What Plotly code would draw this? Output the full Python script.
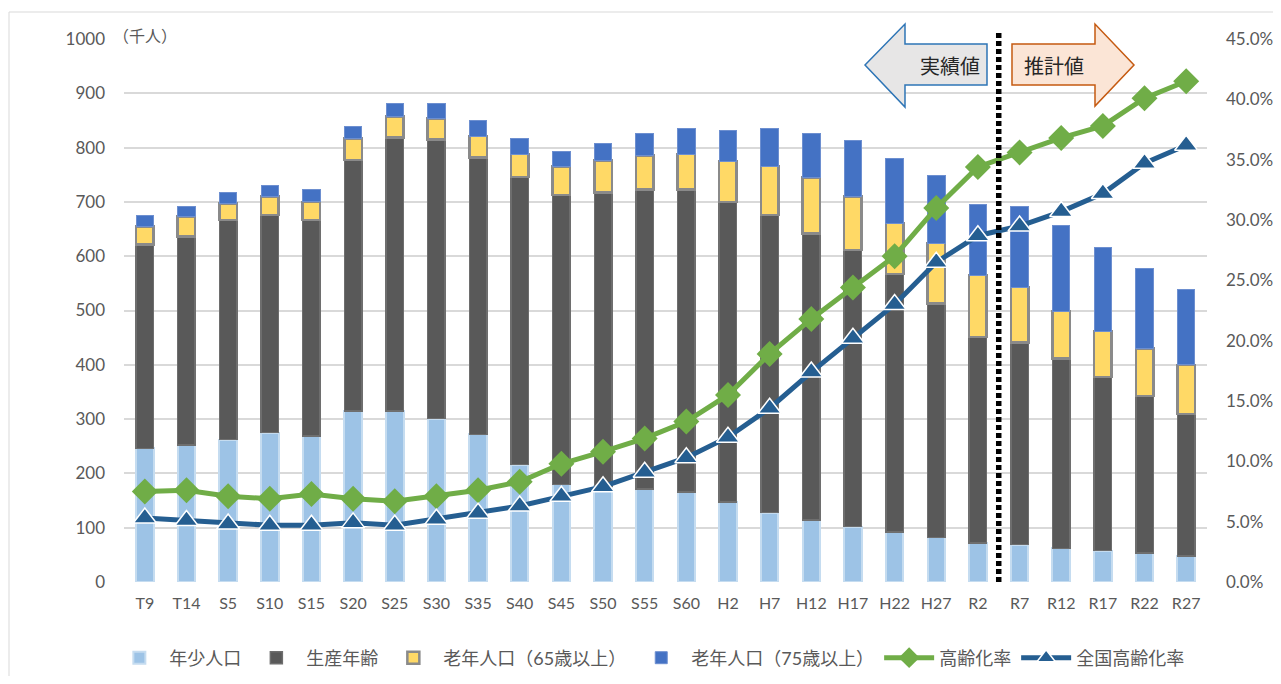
import plotly.graph_objects as go

# --- data ---
categories = ["T9", "T14", "S5", "S10", "S15", "S20", "S25", "S30", "S35", "S40",
              "S45", "S50", "S55", "S60", "H2", "H7", "H12", "H17", "H22", "H27",
              "R2", "R7", "R12", "R17", "R22", "R27"]

# population, thousands
young = [246, 252, 262, 275, 269, 315, 315, 301, 272, 216, 180, 176, 171, 166, 147,
         128, 114, 102, 92, 82, 72, 69, 62, 58, 53, 48]
working = [376, 384, 405, 401, 398, 462, 504, 514, 510, 530, 533, 541, 552, 557, 553,
           548, 528, 509, 475, 431, 379, 372, 350, 320, 290, 261]
old65 = [33, 37, 30, 34, 33, 40, 38, 39, 39, 42, 52, 59, 62, 65, 75,
         90, 103, 99, 94, 111, 114, 102, 87, 84, 87, 91]
old75 = [20, 18, 20, 21, 22, 21, 25, 28, 29, 28, 28, 31, 41, 47, 57,
         69, 81, 103, 119, 124, 131, 148, 157, 154, 147, 138]

# aging rate, %
aging_rate = [7.5, 7.6, 7.1, 6.9, 7.3, 6.9, 6.7, 7.1, 7.6, 8.3, 9.8, 10.8, 11.9, 13.3,
              15.5, 18.9, 21.8, 24.4, 27.0, 31.0, 34.4, 35.6, 36.8, 37.8, 40.1, 41.5]
national_rate = [5.3, 5.1, 4.8, 4.7, 4.7, 4.9, 4.7, 5.2, 5.7, 6.3, 7.1, 7.9, 9.1, 10.3,
                 12.0, 14.4, 17.4, 20.2, 23.0, 26.5, 28.7, 29.5, 30.7, 32.2, 34.7, 36.2]

FONT = "Lato, Noto Sans CJK JP, sans-serif"
GREY_TXT = "#595959"

# page has an 8px body margin, so the figure is drawn 8px in from the window edge
OFF = 8
W, H = 1281 - 2 * OFF, 684 - 2 * OFF
# plot area in window pixels (used to place the decorations)
PL, PR, PT, PB = 124, 1207, 39, 582


def paper(x, y):
    """window pixel -> paper coords"""
    return (x - PL) / (PR - PL), (PB - y) / (PB - PT)


def path(points):
    pts = [paper(x, y) for x, y in points]
    return "M " + " L ".join(f"{a:.5f},{b:.5f}" for a, b in pts) + " Z"


fig = go.Figure()

fig.add_trace(go.Bar(name="年少人口", x=categories, y=young, width=0.42,
                     marker=dict(color="#9DC3E6", line=dict(color="#C5DCF0", width=2))))
fig.add_trace(go.Bar(name="生産年齢", x=categories, y=working, width=0.42,
                     marker=dict(color="#595959", line=dict(color="#6E6E6E", width=1.5))))
fig.add_trace(go.Bar(name="老年人口（65歳以上）", x=categories, y=old65, width=0.42,
                     marker=dict(color="#FFD966", line=dict(color="#8A8A8A", width=2.5))))
fig.add_trace(go.Bar(name="老年人口（75歳以上）", x=categories, y=old75, width=0.42,
                     marker=dict(color="#4472C4", line=dict(color="#6D8FD0", width=1))))

fig.add_trace(go.Scatter(name="高齢化率", x=categories, y=[v / 100 for v in aging_rate],
                         yaxis="y2", mode="lines+markers",
                         line=dict(color="#70AD47", width=5),
                         marker=dict(symbol="diamond", size=20, color="#70AD47")))
fig.add_trace(go.Scatter(name="全国高齢化率", x=categories, y=[v / 100 for v in national_rate],
                         yaxis="y2", mode="lines+markers",
                         line=dict(color="#255E91", width=5),
                         marker=dict(symbol="triangle-up", size=20, color="#255E91",
                                     line=dict(color="white", width=1.5))))

# arrows: 実績値 (left) / 推計値 (right)
left_arrow = [(865, 65), (905, 24), (905, 44), (987, 44), (987, 85), (905, 85), (905, 107)]
right_arrow = [(1012, 44), (1095, 44), (1095, 24), (1134, 65), (1095, 106), (1095, 85), (1012, 85)]

shapes = [
    dict(type="path", xref="paper", yref="paper", path=path(left_arrow),
         fillcolor="#E7E6E6", line=dict(color="#2E75B6", width=1.5), layer="above"),
    dict(type="path", xref="paper", yref="paper", path=path(right_arrow),
         fillcolor="#FBE5D6", line=dict(color="#C55A11", width=1.5), layer="above"),
    # boundary between actual and projected values
    dict(type="line", xref="x", yref="paper", x0=20.5, x1=20.5, y0=0, y1=paper(0, 33)[1],
         line=dict(color="black", width=5.5, dash="5px,3px"), layer="above"),
    # chart frame
    dict(type="rect", xref="paper", yref="paper",
         x0=paper(9, 0)[0], y0=paper(0, 700)[1], x1=paper(1300, 0)[0], y1=paper(0, 12)[1],
         line=dict(color="#D9D9D9", width=1), fillcolor="rgba(0,0,0,0)", layer="below"),
]

ax, ay = paper(950, 66)
bx, by = paper(1054, 66)
ux, uy = paper(111, 35)
annotations = [
    dict(text="実績値", xref="paper", yref="paper", x=ax, y=ay, xanchor="center",
         yanchor="middle", showarrow=False,
         font=dict(size=20, color="#262626", family="Noto Sans CJK JP")),
    dict(text="推計値", xref="paper", yref="paper", x=bx, y=by, xanchor="center",
         yanchor="middle", showarrow=False,
         font=dict(size=20, color="#262626", family="Noto Sans CJK JP")),
    dict(text="（千人）", xref="paper", yref="paper", x=ux, y=uy, xanchor="left",
         yanchor="middle", showarrow=False,
         font=dict(size=16, color=GREY_TXT, family="Noto Sans CJK JP")),
]

fig.update_layout(
    width=W, height=H,
    margin=dict(l=PL - OFF, r=OFF + W - PR, t=PT - OFF, b=OFF + H - PB),
    paper_bgcolor="white", plot_bgcolor="white",
    barmode="stack",
    font=dict(family=FONT, color=GREY_TXT, size=16),
    xaxis=dict(type="category", range=[-0.5, len(categories) - 0.5],
               showgrid=False, showline=False, zeroline=False,
               ticks="", tickfont=dict(size=16, color=GREY_TXT), ticklabelstandoff=10,
               automargin=False),
    yaxis=dict(range=[0, 1000], dtick=100, showgrid=True, gridcolor="#D9D9D9", gridwidth=2,
               zeroline=False, showline=False, ticks="", ticklabelstandoff=18,
               tickfont=dict(size=17, color=GREY_TXT), automargin=False),
    yaxis2=dict(range=[0, 0.45], dtick=0.05, tickformat=".1%", overlaying="y", side="right",
                showgrid=False, zeroline=False, showline=False, ticks="", ticklabelstandoff=18,
                tickfont=dict(size=17, color=GREY_TXT), automargin=False),
    legend=dict(orientation="h", xref="container", x=0.507, xanchor="center",
                yref="container", y=1 - (658 - OFF) / H, yanchor="middle",
                font=dict(size=18, color=GREY_TXT, family=FONT), traceorder="normal",
                itemwidth=50),
    shapes=shapes,
    annotations=annotations,
    showlegend=True,
)

fig.write_html("out.html")
